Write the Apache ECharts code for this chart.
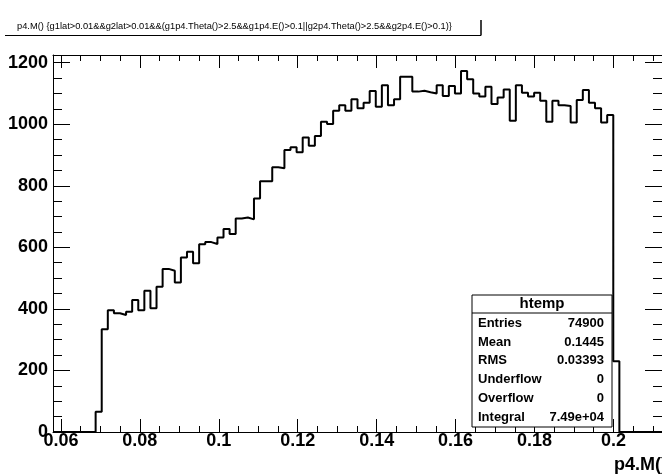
<!DOCTYPE html>
<html>
<head>
<meta charset="utf-8">
<script src="https://cdn.jsdelivr.net/npm/echarts@6/dist/echarts.min.js"></script>
<style>
  html, body { margin: 0; padding: 0; background: #fff; }
  #main { width: 662px; height: 475px; }
</style>
</head>
<body>
<div id="main"></div>
<script>
// histogram htemp : 100 bins, only the filled ones are listed
var XMIN = 0.058;
var XMAX = 0.2123;
var NBINS = 100;
var firstFilledBin = 7;
var filledCounts = [
  66, 334, 396, 386, 380, 391, 429, 396, 459, 402, 472, 530, 524, 486, 567, 586, 548,
  610, 617, 611, 632, 660, 643, 694, 697, 691, 759, 815, 815, 860, 857, 916, 925, 909, 957, 930,
  962, 1008, 1001, 1044, 1062, 1044, 1081, 1052, 1070, 1108, 1057, 1127, 1062, 1081, 1154, 1154,
  1106, 1109, 1104, 1100, 1127, 1092, 1124, 1100, 1173, 1146, 1100, 1090, 1122,
  1066, 1087, 1113, 1011, 1127, 1102, 1090, 1102, 1076, 1008, 1076, 1062, 1059, 1006, 1079,
  1111, 1070, 1052, 1006, 1030, 230
];
var YMAX = 1225;

var xLabels = [0.06, 0.08, 0.1, 0.12, 0.14, 0.16, 0.18, 0.2];
var xMinorStep = 0.005;
var yLabels = [0, 200, 400, 600, 800, 1000, 1200];
var yMinorStep = 50;

var titleText = 'p4.M() {g1lat>0.01&&g2lat>0.01&&(g1p4.Theta()>2.5&&g1p4.E()>0.1||g2p4.Theta()>2.5&&g2p4.E()>0.1)}';
var xTitle = 'p4.M()';
var statName = 'htemp';
var statKeys = ['Entries', 'Mean', 'RMS', 'Underflow', 'Overflow', 'Integral'];
var statValues = ['74900', '0.1445', '0.03393', '0', '0', '7.49e+04'];

// build the step points (bin edges)
var binWidth = (XMAX - XMIN) / NBINS;
var counts = [];
for (var i = 0; i < NBINS; i++) {
  var k = i - firstFilledBin;
  counts.push(k >= 0 && k < filledCounts.length ? filledCounts[k] : 0);
}
var steps = [];
for (var i = 0; i < NBINS; i++) {
  steps.push([XMIN + i * binWidth, counts[i]]);
}
steps.push([XMAX, counts[NBINS - 1]]);

var xMinor = [];
for (var v = 0.06; v < XMAX; v += xMinorStep) xMinor.push(+v.toFixed(4));
var yMinor = [];
for (var v = 0; v <= 1200; v += yMinorStep) yMinor.push(v);

var FONT = 'Liberation Sans, Arial, Helvetica, sans-serif';
var black = '#000';

function xAxisDef(grid, pos, ticks, len, labels) {
  return {
    type: 'value', gridIndex: grid, position: pos, min: XMIN, max: XMAX,
    axisLine: { show: grid === 0, onZero: false, lineStyle: { color: black, width: 1 } },
    axisTick: { show: true, inside: true, length: len, customValues: ticks,
      lineStyle: { color: black, width: 1 } },
    axisLabel: labels ? {
      show: true, customValues: xLabels, margin: 0, color: black,
      fontFamily: FONT, fontWeight: 'bold', fontSize: 18,
      formatter: function (v) { return String(+v.toFixed(3)); }
    } : { show: false },
    splitLine: { show: false }
  };
}
function yAxisDef(grid, pos, ticks, len, labels) {
  return {
    type: 'value', gridIndex: grid, position: pos, min: 0, max: YMAX,
    axisLine: { show: grid === 0, onZero: false, lineStyle: { color: black, width: 1 } },
    axisTick: { show: true, inside: true, length: len, customValues: ticks,
      lineStyle: { color: black, width: 1 } },
    axisLabel: labels ? {
      show: true, customValues: yLabels, margin: 5, color: black,
      fontFamily: FONT, fontWeight: 'bold', fontSize: 18,
      formatter: function (v) { return String(v); }
    } : { show: false },
    splitLine: { show: false }
  };
}

var gridBox = { left: 53, top: 55, width: 614, height: 377, show: false };

var statGraphics = [
  { type: 'rect', shape: { x: 472, y: 295, width: 140, height: 132 },
    style: { fill: '#fff', stroke: black, lineWidth: 1 }, z: 100 },
  { type: 'line', shape: { x1: 472, y1: 313, x2: 612, y2: 313 },
    style: { stroke: black, lineWidth: 1 }, z: 101 },
  { type: 'text', x: 542, y: 304, z: 101,
    style: { text: statName, fill: black, font: 'bold 15px ' + FONT,
      textAlign: 'center', textVerticalAlign: 'middle' } }
];
for (var i = 0; i < statKeys.length; i++) {
  var yy = 323.5 + i * 18.7;
  statGraphics.push({ type: 'text', x: 478, y: yy, z: 101,
    style: { text: statKeys[i], fill: black, font: 'bold 13px ' + FONT,
      textAlign: 'left', textVerticalAlign: 'middle' } });
  statGraphics.push({ type: 'text', x: 604, y: yy, z: 101,
    style: { text: statValues[i], fill: black, font: 'bold 13px ' + FONT,
      textAlign: 'right', textVerticalAlign: 'middle' } });
}

var chart = echarts.init(document.getElementById('main'), null, { renderer: 'canvas' });
chart.setOption({
  animation: false,
  backgroundColor: '#fff',
  grid: [gridBox, gridBox],
  xAxis: [
    xAxisDef(0, 'bottom', xLabels, 13, true),
    xAxisDef(0, 'top', xLabels, 13, false),
    xAxisDef(1, 'bottom', xMinor, 6, false),
    xAxisDef(1, 'top', xMinor, 6, false)
  ],
  yAxis: [
    yAxisDef(0, 'left', yLabels, 17, true),
    yAxisDef(0, 'right', yLabels, 17, false),
    yAxisDef(1, 'left', yMinor, 9, false),
    yAxisDef(1, 'right', yMinor, 9, false)
  ],
  series: [{
    type: 'line',
    xAxisIndex: 0,
    yAxisIndex: 0,
    data: steps,
    step: 'end',
    symbol: 'none',
    lineStyle: { color: black, width: 2 },
    z: 5
  }],
  graphic: [
    { type: 'line', shape: { x1: 5, y1: 35.5, x2: 481, y2: 35.5 },
      style: { stroke: black, lineWidth: 1 } },
    { type: 'line', shape: { x1: 481, y1: 20, x2: 481, y2: 35.5 },
      style: { stroke: black, lineWidth: 1.5 } },
    { type: 'text', x: 17, y: 26,
      style: { text: titleText, fill: black, font: '9.3px ' + FONT,
        textAlign: 'left', textVerticalAlign: 'middle' } },
    { type: 'text', x: 667, y: 465,
      style: { text: xTitle, fill: black, font: 'bold 18px ' + FONT,
        textAlign: 'right', textVerticalAlign: 'middle' } }
  ].concat(statGraphics)
});
</script>
</body>
</html>
